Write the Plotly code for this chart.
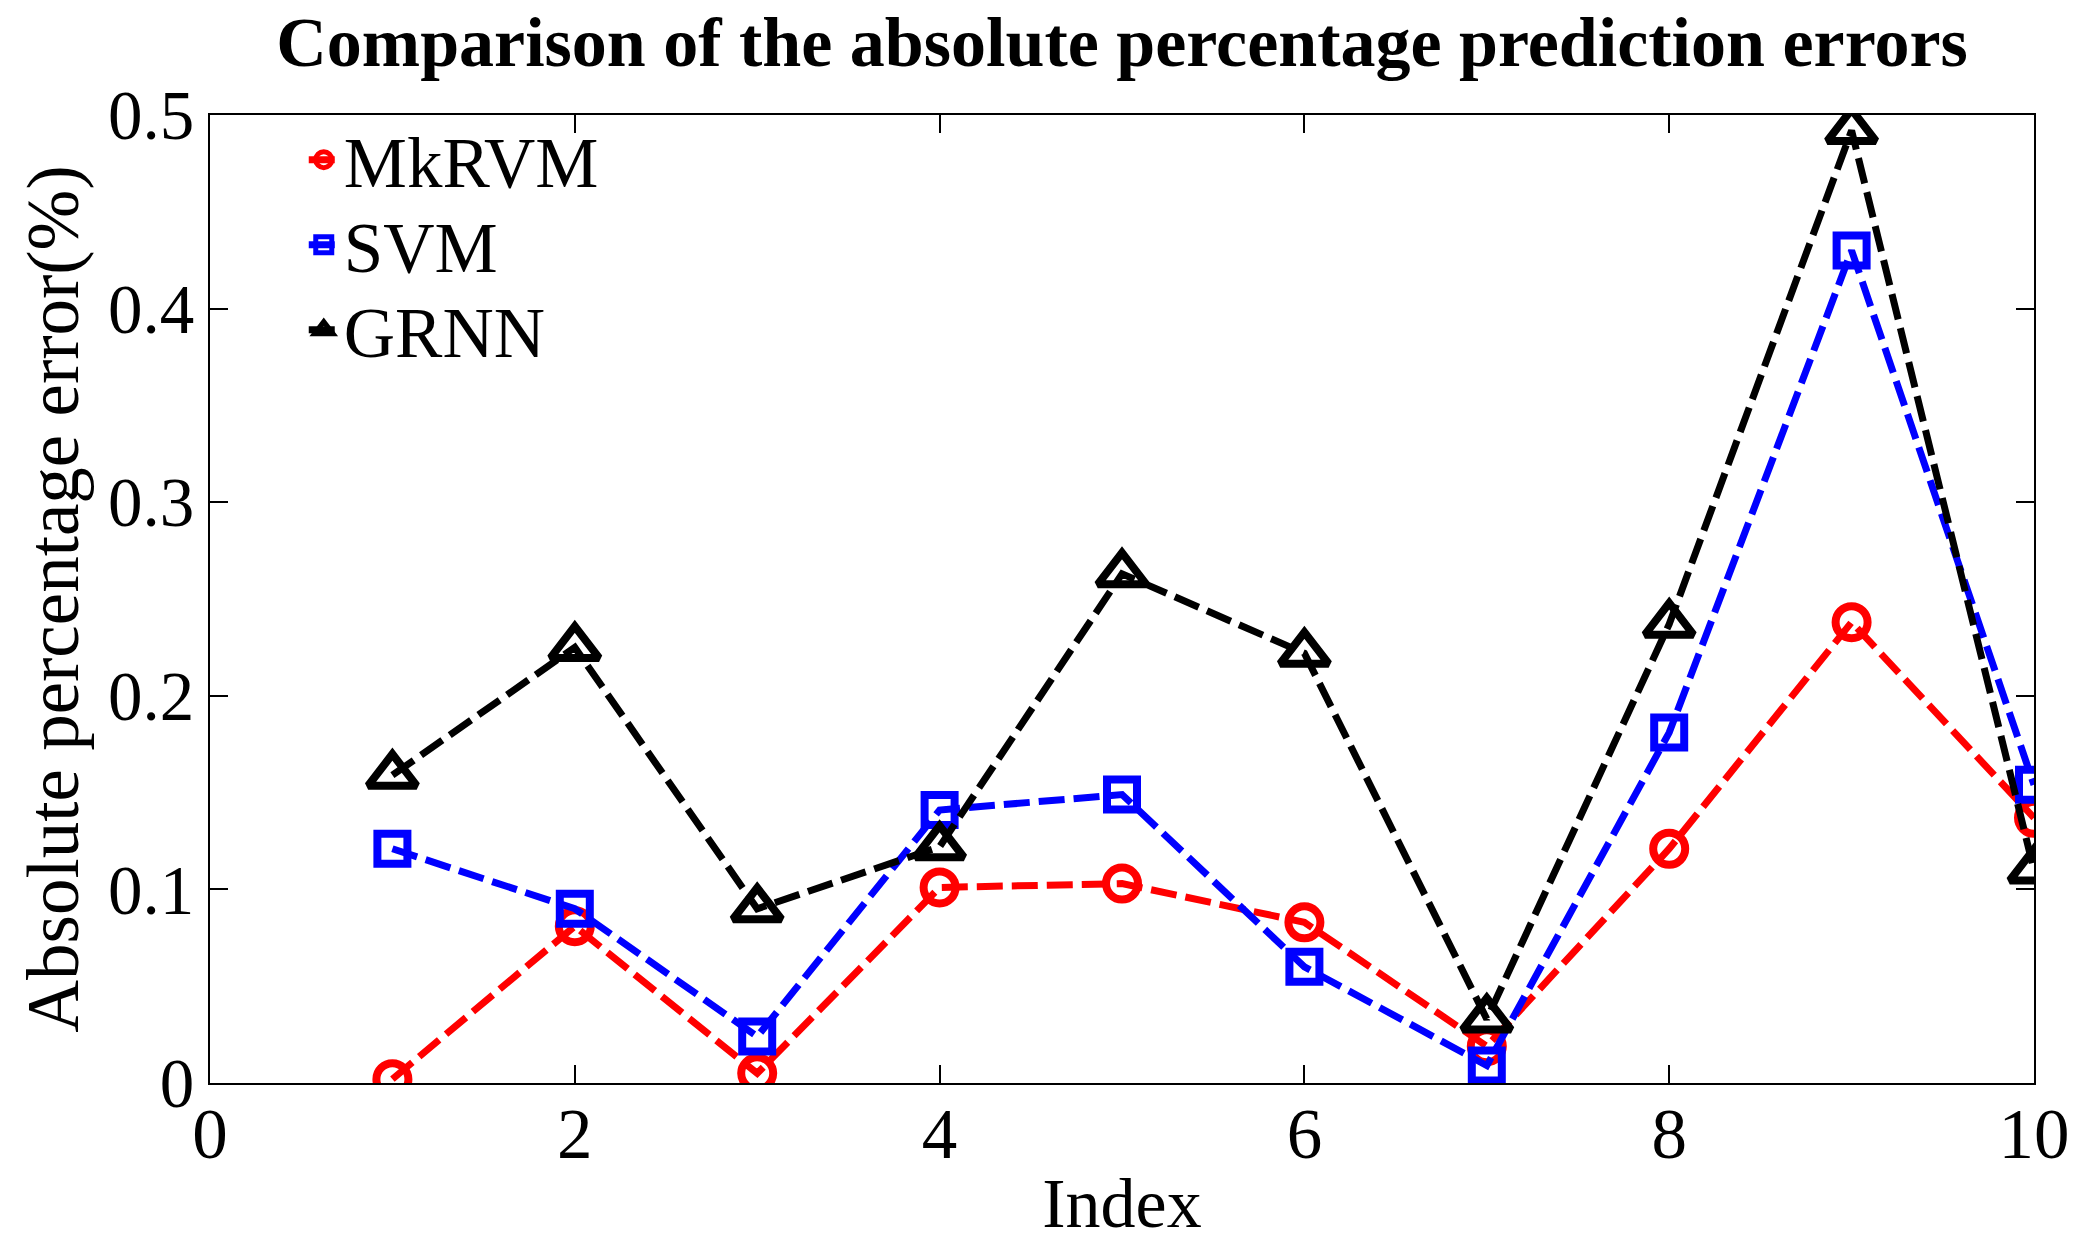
import plotly.graph_objects as go

index = [1, 2, 3, 4, 5, 6, 7, 8, 9, 10]
mkrvm = [0.002, 0.081, 0.005, 0.101, 0.103, 0.083, 0.019, 0.121, 0.238, 0.137]
svm = [0.121, 0.090, 0.024, 0.141, 0.149, 0.060, 0.009, 0.181, 0.430, 0.154]
grnn = [0.159, 0.225, 0.090, 0.122, 0.263, 0.222, 0.033, 0.237, 0.492, 0.110]

x_ticks = [0, 2, 4, 6, 8, 10]
y_ticks = [0, 0.1, 0.2, 0.3, 0.4, 0.5]
y_tick_text = ["0", "0.1", "0.2", "0.3", "0.4", "0.5"]

FONT = "Liberation Serif, Times New Roman, serif"
DASH = "26px,9px"

fig = go.Figure()
series = [
    ("MkRVM", mkrvm, "#FF0000", "circle-open", 32, "legend", 0.9535),
    ("SVM", svm, "#0000FF", "square-open", 30, "legend2", 0.8657),
    ("GRNN", grnn, "#000000", "triangle-up-open", 42, "legend3", 0.7779),
]
legend_cfg = {}
for name, vals, col, sym, sz, lg, ly in series:
    fig.add_trace(go.Scatter(
        x=index, y=vals, name=name, mode="lines+markers", legend=lg,
        line=dict(color=col, width=7, dash=DASH),
        marker=dict(symbol=sym, size=sz, color=col, line=dict(color=col, width=8)),
    ))
    legend_cfg[lg] = dict(x=0.0514, y=ly, xanchor="left", yanchor="middle",
                          bgcolor="rgba(0,0,0,0)", borderwidth=0,
                          font=dict(family=FONT, size=71, color="black"),
                          itemsizing="trace")

fig.update_layout(
    width=2094, height=1254,
    margin=dict(l=202, r=68, t=107, b=179),
    paper_bgcolor="white", plot_bgcolor="white",
    font=dict(family=FONT, size=70, color="black"),
    title=dict(text="<b>Comparison of the absolute percentage prediction errors</b>",
               x=0.532, xanchor="center", y=0.973, yanchor="middle",
               font=dict(family=FONT, size=70, color="black")),
    showlegend=True,
    **legend_cfg,
)
fig.update_xaxes(
    range=[0, 10], tickmode="array", tickvals=x_ticks,
    ticks="inside", ticklen=18, tickwidth=2, tickcolor="black",
    showline=True, linecolor="black", linewidth=2, mirror="ticks",
    showgrid=False, zeroline=False,
    tickfont=dict(family=FONT, size=71, color="black"),
    ticklabelstandoff=-12,
    title=dict(text="Index", font=dict(family=FONT, size=70, color="black"), standoff=6),
)
fig.update_yaxes(
    range=[0, 0.5], tickmode="array", tickvals=y_ticks, ticktext=y_tick_text,
    ticks="inside", ticklen=18, tickwidth=2, tickcolor="black",
    showline=True, linecolor="black", linewidth=2, mirror="ticks",
    showgrid=False, zeroline=False,
    tickfont=dict(family=FONT, size=69, color="black"),
    ticklabelstandoff=0,
    title=dict(text="Absolute percentage error(%)", font=dict(family=FONT, size=73, color="black"), standoff=5),
)

fig.write_html("out.html")
